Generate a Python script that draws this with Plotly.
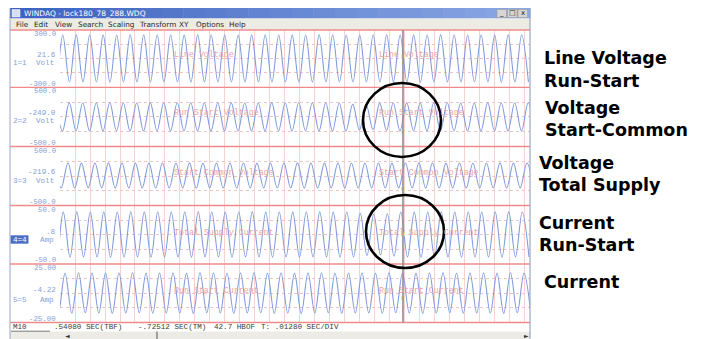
import numpy as np
import plotly.graph_objects as go

W, H = 701, 339

# ---------------- data ----------------
period_ms = 11.52          # one cycle of the waveforms
div_ms = 12.8              # .01280 SEC/DIV
x_range_ms = [0.0, 401.1]
cursor_ms = 292.7

channel_names = ["Line Voltage", "Run Start Voltage", "Start Common Voltage",
                 "Total Supply Current", "Run Start Current"]
channel_ids = ["1=1", "2=2", "3=3", "4=4", "5=5"]
units = ["Volt", "Volt", "Volt", "Amp", "Amp"]
range_top = [300.0, 500.0, 500.0, 50.0, 25.0]
range_bottom = [-300.0, -500.0, -500.0, -50.0, -25.0]
top_labels = ["300.0", "500.0", "500.0", "50.0", "25.00"]
bottom_labels = ["-300.0", "-500.0", "-500.0", "-50.0", "-25.00"]
cursor_values = [21.6, -249.0, -219.6, 0.8, -4.22]
cursor_labels = ["21.6", "-249.0", "-219.6", ".8", "-4.22"]
first_peak_ms = [2.3, 7.9, 6.8, 2.8, 4.3]

ch1_peaks = [248, 247, 249, 248, 246, 248, 249, 247, 248, 248, 246, 249, 248, 247, 248, 249, 247, 248,
             246, 248, 249, 247, 248, 248, 247, 249, 248, 246, 248, 249, 247, 248, 248, 246, 249, 248]
ch1_troughs = [-244, -245, -243, -244, -246, -244, -243, -245, -244, -244, -246, -243, -244, -245, -244, -243, -245, -244,
               -246, -244, -243, -245, -244, -244, -245, -243, -244, -246, -244, -243, -245, -244, -244, -246, -243, -244]
ch2_peaks = [240, 241, 239, 240, 242, 240, 239, 241, 240, 240, 242, 239, 240, 241, 240, 239, 241, 240,
             242, 240, 239, 236, 215, 205, 232, 240, 241, 239, 240, 242, 240, 239, 241, 240, 240, 241]
ch2_troughs = [-238, -237, -239, -238, -236, -238, -239, -237, -238, -238, -236, -239, -238, -237, -238, -239, -237, -238,
               -236, -238, -239, -240, -222, -215, -230, -238, -237, -239, -238, -236, -238, -239, -237, -238, -238, -237]
ch3_peaks = [220, 221, 219, 220, 222, 220, 219, 221, 220, 220, 222, 219, 220, 221, 220, 219, 221, 220,
             222, 220, 219, 221, 220, 220, 221, 219, 220, 222, 220, 219, 221, 220, 220, 222, 219, 220]
ch3_troughs = [-203, -204, -202, -203, -205, -203, -202, -204, -203, -203, -205, -202, -203, -204, -203, -202, -204, -203,
               -205, -203, -202, -204, -203, -203, -204, -202, -203, -205, -203, -202, -204, -203, -203, -205, -202, -203]
ch4_peaks = [38.9, 38.7, 39.1, 38.9, 38.6, 38.9, 39.1, 38.7, 38.9, 38.9, 38.6, 39.1, 38.9, 38.7, 38.9, 39.1, 38.7, 38.9,
             38.6, 38.9, 39.1, 38.7, 38.9, 36.5, 35.0, 36.0, 38.9, 38.6, 38.9, 39.1, 38.7, 38.9, 38.9, 38.6, 39.1, 38.9]
ch4_troughs = [-38.0, -38.2, -37.8, -38.0, -38.3, -38.0, -37.8, -38.2, -38.0, -38.0, -38.3, -37.8, -38.0, -38.2, -38.0, -37.8, -38.2, -38.0,
               -38.3, -38.0, -37.8, -38.2, -38.0, -35.5, -34.5, -36.5, -38.0, -38.3, -38.0, -37.8, -38.2, -38.0, -38.0, -38.3, -37.8, -38.0]
ch5_peaks = [17.3, 17.1, 17.5, 17.3, 17.0, 17.3, 17.5, 17.1, 17.3, 17.3, 17.0, 17.5, 17.3, 17.1, 17.3, 17.5, 17.1, 17.3,
             17.0, 17.3, 17.5, 17.1, 17.3, 17.3, 17.1, 17.5, 17.3, 17.0, 17.3, 17.5, 17.1, 17.3, 17.3, 17.0, 17.5, 17.3]
ch5_troughs = [-16.9, -17.1, -16.7, -16.9, -17.2, -16.9, -16.7, -17.1, -16.9, -16.9, -17.2, -16.7, -16.9, -17.1, -16.9, -16.7, -17.1, -16.9,
               -17.2, -16.9, -16.7, -17.1, -16.9, -16.9, -17.1, -16.7, -16.9, -17.2, -16.9, -16.7, -17.1, -16.9, -16.9, -17.2, -16.7, -16.9]

peaks = [ch1_peaks, ch2_peaks, ch3_peaks, ch4_peaks, ch5_peaks]
troughs = [ch1_troughs, ch2_troughs, ch3_troughs, ch4_troughs, ch5_troughs]

menu_items = ["File", "Edit", "View", "Search", "Scaling", "Transform", "XY", "Options", "Help"]
status_items = ["M10", ".54080 SEC(TBF)", "-.72512 SEC(TM)", "42.7 HBOF", "T: .01280 SEC/DIV"]
window_title = "WINDAQ - lock180_78_288.WDQ"
side_labels = [["Line Voltage", "Run-Start"], ["Voltage", "Start-Common"], ["Voltage", "Total Supply"],
               ["Current", "Run-Start"], ["Current"]]

# ---------------- layout helpers (pixel -> paper) ----------------
def px(x):
    return x / W

def py(y):
    return 1 - y / H

bands = [(30, 87.3), (87.3, 146.5), (146.5, 205.5), (205.5, 264), (264, 322.5)]
PLOT_L, PLOT_R = 60, 530
WIN_L, WIN_R = 10, 530

wave_color = "#819bdc"
grid_color = "#f5d3d3"
sep_color = "#f08a8a"
label_blue = "#86a0d8"
mono = "Liberation Mono"

fig = go.Figure()

for i in range(5):
    n = len(peaks[i])
    tp = first_peak_ms[i] + (np.arange(n) - 1) * period_ms
    t = np.empty(2 * n)
    v = np.empty(2 * n)
    t[0::2] = tp
    t[1::2] = tp + period_ms / 2
    v[0::2] = peaks[i]
    v[1::2] = troughs[i]
    yname = "y" if i == 0 else f"y{i+1}"
    fig.add_trace(go.Scatter(x=t, y=v, mode="lines", xaxis="x", yaxis=yname,
                             line=dict(color=wave_color, width=1.1, shape="spline", smoothing=1.0),
                             hoverinfo="skip", showlegend=False))
    fig.add_trace(go.Scatter(x=[cursor_ms], y=[cursor_values[i]], mode="markers", xaxis="x", yaxis=yname,
                             marker=dict(color="#f2e6a0", size=4, symbol="square"),
                             hoverinfo="skip", showlegend=False))

layout = dict(
    width=W, height=H, margin=dict(l=0, r=0, t=0, b=0),
    paper_bgcolor="white", plot_bgcolor="white", showlegend=False,
    xaxis=dict(domain=[px(PLOT_L), px(PLOT_R)], range=x_range_ms, showticklabels=False,
               showgrid=True, gridcolor=grid_color, gridwidth=1, dtick=div_ms, tick0=0,
               zeroline=False, showline=False, ticks="", anchor="y5", fixedrange=True),
)
for i, (t, b) in enumerate(bands):
    key = "yaxis" if i == 0 else f"yaxis{i+1}"
    rng = range_top[i] - range_bottom[i]
    layout[key] = dict(domain=[py(b), py(t)], range=[range_bottom[i], range_top[i]],
                       showticklabels=False, showgrid=True, gridcolor="#f0c4c4", griddash="dot",
                       dtick=rng / 4, tick0=0, zeroline=False, showline=False, ticks="",
                       anchor="x", fixedrange=True)
fig.update_layout(**layout)

shapes = []
annotations = []

def rect(x0, y0, x1, y1, fill, line=None, lw=0, layer="below"):
    shapes.append(dict(type="rect", xref="paper", yref="paper", x0=px(x0), x1=px(x1), y0=py(y1), y1=py(y0),
                       fillcolor=fill, line=dict(color=line or fill, width=lw), layer=layer))

def hline(x0, x1, y, color, w=1, dash="solid", layer="above"):
    shapes.append(dict(type="line", xref="paper", yref="paper", x0=px(x0), x1=px(x1), y0=py(y), y1=py(y),
                       line=dict(color=color, width=w, dash=dash), layer=layer))

def vline(x, y0, y1, color, w=1, layer="above"):
    shapes.append(dict(type="line", xref="paper", yref="paper", x0=px(x), x1=px(x), y0=py(y0), y1=py(y1),
                       line=dict(color=color, width=w), layer=layer))

def text(x, y, s, size=8, color="#333", family=mono, xanchor="left"):
    a = dict(xref="paper", yref="paper", x=px(x), y=py(y), text=s, showarrow=False,
             xanchor=xanchor, yanchor="middle", font=dict(size=size, color=color, family=family),
             borderpad=0)
    annotations.append(a)

# window title bar (gradient in strips)
c0 = np.array([0x3e, 0x62, 0xc0])
c1 = np.array([0x8a, 0xa8, 0xe4])
nstr = 24
for k in range(nstr):
    f = k / (nstr - 1)
    c = (c0 * (1 - f) + c1 * f).astype(int)
    col = "#%02x%02x%02x" % tuple(c)
    xa = WIN_L + (WIN_R - WIN_L) * k / nstr
    xb = WIN_L + (WIN_R - WIN_L) * (k + 1) / nstr + 0.5
    rect(xa, 8, xb, 18.5, col)
rect(12, 9.5, 20, 17, "#d8e0f0", "#ffffff", 0.5, layer="above")
text(23, 13.3, window_title, size=7.5, color="white", family="DejaVu Sans")
for j, sym in enumerate(["_", "□", "x"]):
    bx = 497 + j * 10.5
    rect(bx, 9.5, bx + 9.5, 17.5, "#d6d6d6", "#9a9a9a", 0.6, layer="above")
    text(bx + 4.75, 13.5, sym, size=7, color="#222", family="DejaVu Sans", xanchor="center")

# menu bar
rect(WIN_L, 18.5, WIN_R, 29.5, "#ecebe4")
menu_x = [15, 33, 54, 77, 107, 138, 178, 195, 228]
for mx, m in zip(menu_x, menu_items):
    text(mx, 24.3, m, size=7.3, color="#2a2a2a", family="DejaVu Sans")

# channel separators (red)
for (t, b) in bands:
    hline(WIN_L, PLOT_R, t, sep_color, 1.3)
hline(WIN_L, PLOT_R, bands[-1][1], sep_color, 1.3)

# left-side channel labels
for i, (t, b) in enumerate(bands):
    text(57, t + 4.0, top_labels[i], size=7.4, color=label_blue, xanchor="right")
    text(57, b - 3.6, bottom_labels[i], size=7.4, color=label_blue, xanchor="right")
cur_y = [55, 113, 172, 232, 290]
unit_y = [62.5, 121, 181, 239.5, 299.5]
for i in range(5):
    text(57, cur_y[i], cursor_labels[i], size=7.6, color=label_blue, xanchor="right")
    text(55, unit_y[i], units[i], size=7.6, color=label_blue, xanchor="right")
    if i == 3:
        rect(10.5, unit_y[i] - 4.2, 28.5, unit_y[i] + 4.2, "#4c6fc4", layer="above")
        text(12, unit_y[i], channel_ids[i], size=7.6, color="white")
    else:
        text(12, unit_y[i], channel_ids[i], size=7.6, color=label_blue)

# watermark channel names inside the traces
for i in range(5):
    for wx in (173, 378):
        text(wx, cur_y[i], channel_names[i], size=8.3, color="#eba3a3")

# cursor line
shapes.append(dict(type="line", xref="x", yref="paper", x0=cursor_ms, x1=cursor_ms,
                   y0=py(bands[-1][1]), y1=py(bands[0][0]),
                   line=dict(color="#8e8e8e", width=1.6), layer="above"))

# status bar and scroll bar
rect(WIN_L, 323.2, WIN_R, 331, "#ffffff")
status_x = [12, 53, 137, 213, 260]
for sx, s in zip(status_x, status_items):
    text(sx, 327, s, size=7.6, color="#3a3a3a")
hline(11, 50, 331.2, "#555", 0.8)
rect(WIN_L, 331.5, WIN_R, 339, "#ecebe6")
text(67, 335.3, "◄", size=6, color="#333", family="DejaVu Sans", xanchor="center")
vline(157, 331.5, 339, "#555", 1)
text(526, 335.3, "►", size=6, color="#333", family="DejaVu Sans", xanchor="center")

# window frame
vline(WIN_L, 8, 339, "#9aa6c0", 1)
vline(WIN_R, 8, 339, "#9aa6c0", 1.2)

# annotation ellipses
shapes.append(dict(type="circle", xref="paper", yref="paper", x0=px(363), x1=px(441), y0=py(157), y1=py(83),
                   line=dict(color="black", width=2.6), layer="above"))
shapes.append(dict(type="circle", xref="paper", yref="paper", x0=px(366), x1=px(444), y0=py(268), y1=py(195),
                   line=dict(color="black", width=2.6), layer="above"))

# right-side explanatory labels
side_pos = [(543, [58, 81]), (544, [108, 130]), (538, [163, 185]), (538, [223, 245]), (543, [282])]
for (sx, ys), lines in zip(side_pos, side_labels):
    for yy, s in zip(ys, lines):
        text(sx, yy, "<b>" + s + "</b>", size=17.5, color="black", family="DejaVu Sans")

fig.update_layout(shapes=shapes, annotations=annotations)
fig.write_html("out.html", config={"displayModeBar": False, "staticPlot": True},
               post_script="document.body.style.margin='0';document.body.style.padding='0';"
                           "document.documentElement.style.overflow='hidden';")
